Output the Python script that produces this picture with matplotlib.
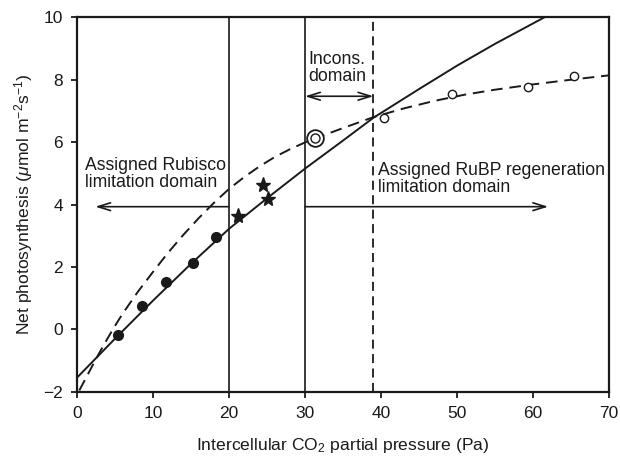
import matplotlib
matplotlib.use("Agg")
import matplotlib.pyplot as plt

plt.rcParams["font.family"] = ["Liberation Sans", "DejaVu Sans"]
plt.rcParams["mathtext.fontset"] = "custom"
plt.rcParams["mathtext.rm"] = "Liberation Sans"
plt.rcParams["mathtext.it"] = "Liberation Sans:italic"

# data
rub_x = [0, 5, 10, 15, 20, 25, 30, 35, 39, 45, 50, 55, 61.5, 63]
rub_y = [-1.55, -0.3, 0.92, 2.1, 3.22, 4.2, 5.15, 6.05, 6.78, 7.7, 8.45, 9.15, 10.0, 10.2]

rubp_x = [0.3, 1, 2, 3, 4, 5, 6, 7, 8, 9, 10, 12, 14, 16, 18, 20, 22, 24, 26, 28,
          30, 32, 35, 39, 43, 47, 51, 55, 60, 65, 70]
rubp_y = [-1.96, -1.64, -1.18, -0.73, -0.30, 0.11, 0.50, 0.85, 1.2, 1.52, 1.84,
          2.46, 3.03, 3.56, 4.05, 4.5, 4.88, 5.22, 5.52, 5.77, 5.99, 6.18, 6.45,
          6.8, 7.08, 7.32, 7.52, 7.68, 7.85, 8.0, 8.14]

filled_x = [5.4, 8.5, 11.75, 15.3, 18.3]
filled_y = [-0.17, 0.74, 1.52, 2.12, 2.96]

star_x = [21.2, 24.5, 25.1]
star_y = [3.62, 4.64, 4.17]

open_x = [40.4, 49.4, 59.3, 65.4]
open_y = [6.78, 7.55, 7.78, 8.13]

double_x = [31.3]
double_y = [6.14]

bounds = [20, 30, 39]

col = "#1a1a1a"
fig = plt.figure(figsize=(6.2, 4.57), dpi=100)
ax = fig.add_axes([0.1242, 0.1429, 0.8581, 0.8192])

ax.plot(rub_x, rub_y, color=col, lw=1.4, zorder=3)
ax.plot(rubp_x, rubp_y, color=col, lw=1.4, dashes=(6, 3.5), zorder=3)

ax.axvline(bounds[0], color=col, lw=1.2)
ax.axvline(bounds[1], color=col, lw=1.2)
ax.axvline(bounds[2], color=col, lw=1.3, dashes=(5, 3))

ax.plot(filled_x, filled_y, "o", color=col, ms=7, zorder=4)
ax.plot(star_x, star_y, "*", color=col, ms=11, zorder=4)
ax.plot(open_x, open_y, "o", mfc="white", mec=col, mew=1.0, ms=6, zorder=4)
ax.plot(double_x, double_y, "o", mfc="white", mec=col, mew=1.3, ms=12, zorder=4)
ax.plot(double_x, double_y, "o", mfc="white", mec=col, mew=1.0, ms=6.5, zorder=5)

arrow = dict(arrowstyle="->,head_length=0.9,head_width=0.28", color=col, lw=1.2,
             shrinkA=0, shrinkB=0)
ax.annotate("", xy=(2.4, 3.93), xytext=(20, 3.93), arrowprops=arrow)
ax.annotate("", xy=(62, 3.93), xytext=(30, 3.93), arrowprops=arrow)
arrow2 = dict(arrowstyle="<->,head_length=0.9,head_width=0.28", color=col, lw=1.2,
              shrinkA=0, shrinkB=0)
ax.annotate("", xy=(30, 7.47), xytext=(39, 7.47), arrowprops=arrow2)

fs = 12.7
ax.text(1.1, 4.98, "Assigned Rubisco\nlimitation domain", fontsize=fs, color=col,
        va="center", ha="left", linespacing=1.0)
ax.text(30.4, 8.39, "Incons.\ndomain", fontsize=fs, color=col,
        va="center", ha="left", linespacing=1.0)
ax.text(39.6, 4.82, "Assigned RuBP regeneration\nlimitation domain", fontsize=fs,
        color=col, va="center", ha="left", linespacing=1.0)

ax.set_xlim(0, 70)
ax.set_ylim(-2, 10)
ax.set_xticks(range(0, 71, 10))
ax.set_yticks(range(-2, 11, 2))
ax.tick_params(direction="out", length=4.5, width=1.3, labelsize=12.5,
               colors=col, top=False, right=False, pad=5.5)
for s in ax.spines.values():
    s.set_linewidth(1.6)
    s.set_color(col)

ax.set_xlabel("Intercellular CO$_2$ partial pressure (Pa)", fontsize=12.6,
              color=col, labelpad=11)
ax.set_ylabel("Net photosynthesis ($\\mu$mol m$^{-2}$s$^{-1}$)", fontsize=12.6,
              color=col, labelpad=6)

fig.savefig("out.png", dpi=100)
